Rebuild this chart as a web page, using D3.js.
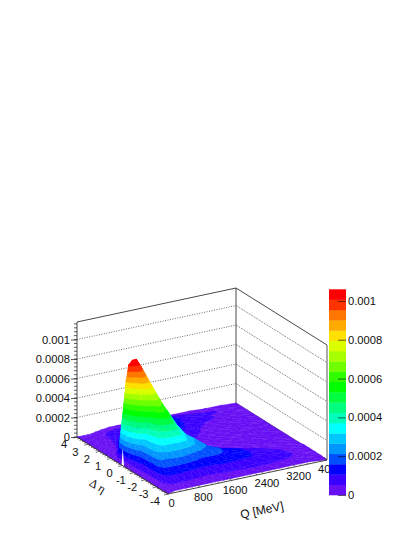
<!DOCTYPE html>
<html><head><meta charset="utf-8">
<style>html,body{margin:0;padding:0;background:#fff}svg{display:block}text{font-family:"Liberation Sans",Arial,sans-serif;font-size:11.2px;fill:#111}</style>
<script src="https://cdn.jsdelivr.net/npm/d3@7"></script></head><body><div id="chart"></div>
<script>
const etaBins=[-4,-3.5,-3,-2.5,-2,-1.5,-1,-0.5,0,0.5,1,1.5,2,2.5,3,3.5,4];
const qBins=[0,20,50,100,160,250,350,450,600,800,1000,1200,1400,1600,1800,2000,2400,2800,3200,3600,4000];
// surface height, units of 1e-5; one row per qBins entry, one column per etaBins entry
const zRows=[
[0,0,0,0,0,0,0,0,0,0,0,0,0,0,0,0,0],
[0,1,2,3,3,3,5,9,40,3,1,1,0,0,0,0,0],
[1,2.5,4,5,5,6,9,20,66,4,2,1,1,1,0,0,0],
[1,4,7,9,9,10,14,38,88,9,3,2,1,1,1,0,0],
[2,5,10,15,16,17,20,54,102,20,4,3,2,1,1,1,0],
[2,6,13,20,25,28,30,70,106,50,6,3,2,2,1,1,0],
[2,6,13,21,30,34,40,86,106,80,32,6.5,5.3,4,3,1,0],
[2,6,13,21,33,42,56,88,99,90,60,12,7,6.5,5.5,3,1],
[2,6,13,22,33,50,68,80,85,88,62,30,9,7.5,7,4,2],
[2,5.3,12,22,34,50,58,62,68,74,54,32,18,9,7.5,4.5,3],
[2,5.3,11,20,33,36,43,50,53,50,40,28,17,9,8,5,3],
[2,5,11,17,28,30,31,36,38,35,29,22,15,10,9,5.8,3],
[2,5.3,11,17,23,26,23,24,24,23,20,17,13,11,10,6,3],
[2,6,12,17,20,18,15,14,14,14,14,13,13,12,11,6,3],
[2,6,12,16,17,13,10,8,8,8,10,12,13,13,11,6,3],
[2,6.5,11.5,14,14,11,7,4,3,3,7,10.6,12,12,10.8,6,3],
[2,7,10.6,11,10.5,7,4,3,2,2,3,5,7,8.5,8,5,2],
[2,6,9,9,7,4,2,1,1,1,1,2,4,7,6.5,4,2],
[2,5,7,6,4,3,1,1,0,0,1,1,2,4,5.5,3,1],
[2,3,3.5,3,2,1,1,0,0,0,0,1,1,2,3,2,1],
[0,1,1,1,1,0,0,0,0,0,0,0,0,0,0,0,0]];
const zUnit=1e-5;
const palette=["#6810f4","#3a00ff","#0000ff","#0050ff","#0095ff","#00c8ff","#00ffff","#00ffb8","#00ff80","#00ff40","#00ff00","#30ff00","#70ff00","#a8ff00","#dcff00","#ffe000","#ffaa00","#ff7700","#ff3300","#ff0000"];
const zMax=0.00106;
const zTicks=[0,0.0002,0.0004,0.0006,0.0008,0.001];
const qTicks=[0,800,1600,2400,3200,4000];
const etaTicks=[4,3,2,1,0,-1,-2,-3,-4];
const slit=[{eta:-0.14,z:0},{eta:0.08,z:0},{eta:-0.02,z:0.00018}];

const W=415,H=537;
const svg=d3.select("#chart").append("svg").attr("width",W).attr("height",H);
const etaX=d3.scaleLinear([4,-4],[77,168]), etaY=d3.scaleLinear([4,-4],[437,494]);
const qX=d3.scaleLinear([0,4000],[0,159]), qY=d3.scaleLinear([0,4000],[0,-34]);
const zTop=0.00118, zH=d3.scaleLinear([0,zTop],[0,115]);
const px=(q,e)=>etaX(e)+qX(q), py=(q,e,z)=>etaY(e)+qY(q)-zH(z||0);
const P=(q,e,z)=>[px(q,e),py(q,e,z)];
const line=d3.line();
const boxC="#333";
const back=svg.append("g").attr("fill","none");
[[4,0,4,4000],[4,4000,-4,4000]].forEach(([e0,q0,e1,q1])=>{
  back.selectAll(null).data(zTicks.slice(1)).join("path")
   .attr("d",z=>line([P(q0,e0,z),P(q1,e1,z)]))
   .attr("stroke",e1===4?"#444":"#666").attr("stroke-width",e1===4?0.8:0.7)
   .attr("stroke-dasharray",e1===4?"1 1.5":"2 1");
  back.append("path").attr("d",line([P(q0,e0,zTop),P(q1,e1,zTop)])).attr("stroke",boxC).attr("stroke-width",.9);
});
back.append("path").attr("d",line([P(0,4,0),P(0,4,zTop)])).attr("stroke",boxC).attr("stroke-width",.9);
back.append("path").attr("d",line([P(4000,4,0),P(4000,4,zTop)])).attr("stroke",boxC).attr("stroke-width",.9);
back.append("path").attr("d",line([P(4000,-4,0),P(4000,-4,zTop)])).attr("stroke","#aaa").attr("stroke-width",2);
back.append("path").attr("d",line([P(4000,4,0),P(4000,-4,0)])).attr("stroke",boxC).attr("stroke-width",.8);

const band=zMax/palette.length;
const surf=svg.append("g");
function clip(poly,lim,keepAbove){
  const out=[];
  for(let i=0;i<poly.length;i++){
    const a=poly[i],b=poly[(i+1)%poly.length];
    const ia=keepAbove?a[2]>=lim:a[2]<=lim, ib=keepAbove?b[2]>=lim:b[2]<=lim;
    if(ia)out.push(a);
    if(ia!==ib){const t=(lim-a[2])/(b[2]-a[2]);out.push([a[0]+t*(b[0]-a[0]),a[1]+t*(b[1]-a[1]),lim]);}
  }
  return out;
}
const tris=[];
const V=(i,j)=>[qBins[i],etaBins[j],zRows[i][j]*zUnit];
for(let i=qBins.length-2;i>=0;i--)for(let j=etaBins.length-2;j>=0;j--){
  tris.push([V(i+1,j+1),V(i+1,j),V(i,j+1)]);
  tris.push([V(i,j),V(i+1,j),V(i,j+1)]);
}
const pieces=[];
tris.forEach(t=>{
  const zs=t.map(p=>p[2]);
  const k0=Math.floor(d3.min(zs)/band),k1=Math.min(palette.length-1,Math.floor(d3.max(zs)/band));
  for(let k=k0;k<=k1;k++){
    let poly=clip(t,k*band,true);
    if(k<palette.length-1)poly=clip(poly,(k+1)*band,false);
    if(poly.length>2)pieces.push({k,poly});
  }
});
surf.selectAll("path").data(pieces).join("path")
 .attr("d",d=>line(d.poly.map(p=>P(p[0],p[1],p[2])))+"Z")
 .attr("fill",d=>palette[d.k]).attr("stroke",d=>palette[d.k]).attr("stroke-width",.4);
surf.append("path").attr("d",line(slit.map(s=>P(0,s.eta,s.z)))+"Z").attr("fill","#fff");

const zPos=d3.scaleLinear([0,zTop],[437,322]);
const zMinor=d3.range(0,zTop,0.00004);
svg.append("g").selectAll("line").data(zMinor).join("line")
 .attr("x1",77).attr("x2",74).attr("y1",d=>zPos(d)).attr("y2",d=>zPos(d)).attr("stroke","#333").attr("stroke-width",.8);
const zAxis=svg.append("g").attr("transform","translate(77,0)")
 .call(d3.axisLeft(zPos).tickValues(zTicks).tickSize(6).tickPadding(1).tickFormat(d=>d===0?"0":d3.format(".4~f")(d)));
zAxis.selectAll("text").style("font-size","11.2px").style("font-family",'"Liberation Sans"').attr("fill","#111");
zAxis.select(".domain").remove();
zAxis.selectAll("line").attr("stroke","#333").attr("stroke-width",.8);

const ax=svg.append("g");
ax.append("path").attr("d",line([P(0,4,0),P(0,-4,0)])).attr("stroke",boxC).attr("fill","none").attr("stroke-width",.9);
ax.selectAll(".em").data(d3.range(-4,4.01,0.2)).join("line")
 .attr("x1",d=>P(0,d)[0]).attr("y1",d=>P(0,d)[1])
 .attr("x2",d=>P(0,d)[0]-(Math.abs(d%1)<.01?4:2)).attr("y2",d=>P(0,d)[1]+(Math.abs(d%1)<.01?1:.5))
 .attr("stroke","#333").attr("stroke-width",.7);
ax.selectAll(".el").data(etaTicks).join("text").attr("x",d=>P(0,d)[0]-13).attr("y",d=>P(0,d)[1]+8.5)
 .attr("text-anchor","middle").attr("dominant-baseline","middle").text(d=>String(d));
ax.append("text").attr("transform","translate(97,487) rotate(32)").attr("text-anchor","middle").attr("dominant-baseline","middle")
 .style("font-family",'"Liberation Serif"').style("font-size","12px").text("Δ η");
ax.append("path").attr("d",line([P(0,-4,0),P(4000,-4,0)])).attr("stroke",boxC).attr("fill","none").attr("stroke-width",.9);
ax.selectAll(".qm").data(d3.range(0,4001,160)).join("line")
 .attr("x1",d=>P(d,-4)[0]).attr("y1",d=>P(d,-4)[1])
 .attr("x2",d=>P(d,-4)[0]-(d%800===0?3:1)).attr("y2",d=>P(d,-4)[1]-(d%800===0?3:1))
 .attr("stroke","#333").attr("stroke-width",.7);
ax.selectAll(".ql").data(qTicks).join("text").attr("x",d=>P(d,-4)[0]+3.5).attr("y",d=>P(d,-4)[1]+10.5)
 .attr("text-anchor","middle").attr("dominant-baseline","middle").text(d=>d);
ax.append("text").attr("transform","translate(262,511) rotate(-12)").attr("text-anchor","middle").attr("dominant-baseline","middle")
 .style("font-size","12px").text("Q [MeV]");

const cPos=d3.scaleLinear([0,zMax],[495,289.3]);
svg.append("g").selectAll("rect").data(palette).join("rect")
 .attr("x",329).attr("width",17).attr("y",(d,i)=>cPos((i+1)*band)).attr("height",(d,i)=>cPos(i*band)-cPos((i+1)*band)+.3)
 .attr("fill",d=>d);
const cAxis=svg.append("g").attr("transform","translate(346,0)")
 .call(d3.axisRight(cPos).tickValues(zTicks).tickSize(-8).tickPadding(2).tickFormat(d=>d===0?"0":d3.format(".4~f")(d)));
cAxis.select(".domain").remove();
cAxis.selectAll("text").style("font-size","11.2px").style("font-family",'"Liberation Sans"').attr("fill","#111");
cAxis.selectAll("line").attr("stroke","#000").attr("stroke-opacity",.65).attr("stroke-width",.9);
</script></body></html>
